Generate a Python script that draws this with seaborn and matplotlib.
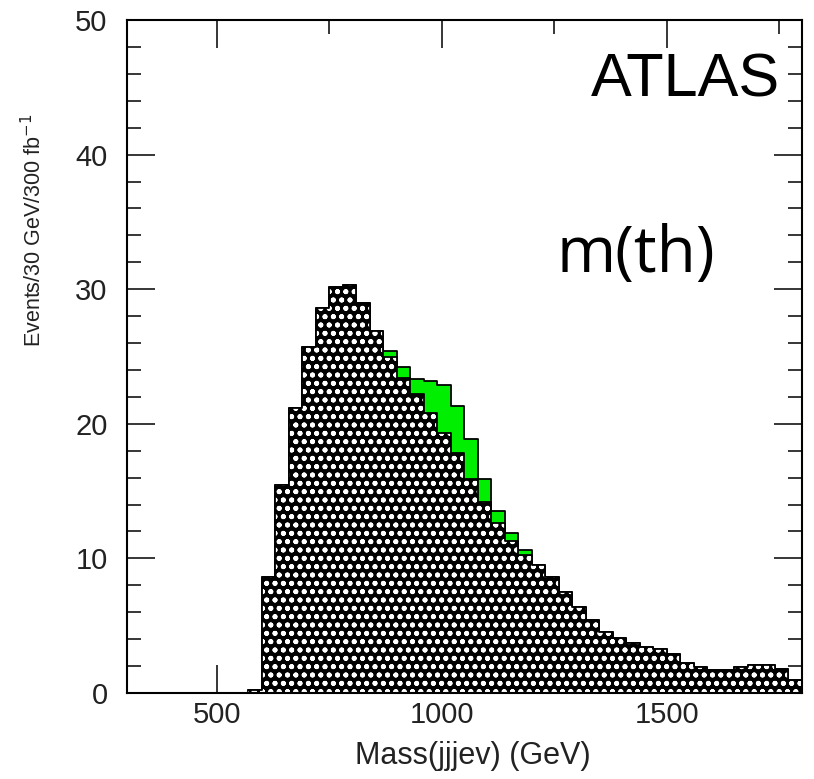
import numpy as np
import pandas as pd
import seaborn as sns
import matplotlib.pyplot as plt
from matplotlib.ticker import MultipleLocator

# 30 GeV bins, low edges
bin_low = np.arange(570, 1800, 30)
background = [0.25, 8.6, 15.45, 21.2, 25.7, 28.6, 30.2, 30.3, 29.0, 26.9,
              25.0, 23.4, 22.2, 20.8, 19.3, 17.8, 15.9, 14.2, 12.6, 11.3, 10.25,
              9.5, 8.6, 7.5, 6.4, 5.4, 4.5, 4.1, 3.75, 3.45, 3.25,
              2.9, 2.25, 1.95, 1.7, 1.7, 1.95, 2.1, 2.1, 1.75, 0.95]
signal = [0, 0, 0, 0, 0, 0, 0, 0, 0, 0,
          0.4, 0.8, 1.1, 2.35, 3.55, 3.55, 3.0, 1.7, 0.9, 0.6, 0.35,
          0, 0, 0, 0, 0, 0, 0, 0, 0, 0,
          0, 0, 0, 0, 0, 0, 0, 0, 0, 0]
x_ticks = [500, 1000, 1500]
y_ticks = [0, 10, 20, 30, 40, 50]

df = pd.DataFrame({'mass': bin_low + 15, 'bkg': background, 'sig': signal})
df['total'] = df['bkg'] + df['sig']
edges = list(bin_low) + [bin_low[-1] + 30]

sns.set_style('ticks')
plt.rcParams['font.family'] = ['Liberation Sans', 'DejaVu Sans']
plt.rcParams['hatch.linewidth'] = 1.2

fig = plt.figure(figsize=(8.14, 7.79), dpi=100)
ax = fig.add_axes([0.156, 0.1104, 0.829, 0.8639])

# signal on top of background: draw the total in green first
sns.histplot(data=df, x='mass', weights='total', bins=edges, element='step',
             fill=True, color='#00ee00', alpha=1, edgecolor='black',
             linewidth=1.3, ax=ax)
# hatched background
sns.histplot(data=df, x='mass', weights='bkg', bins=edges, element='step',
             fill=True, color='black', alpha=1, edgecolor='white',
             linewidth=0, hatch='oo..', ax=ax)
sns.histplot(data=df, x='mass', weights='bkg', bins=edges, element='step',
             fill=False, color='black', linewidth=1.3, ax=ax)

ax.set_xlim(300, 1800)
ax.set_ylim(0, 50)
ax.set_xticks(x_ticks)
ax.set_yticks(y_ticks)
ax.xaxis.set_minor_locator(MultipleLocator(250))
ax.yaxis.set_minor_locator(MultipleLocator(2))
ax.tick_params(which='both', direction='in', top=True, right=True, width=1.1,
               color='black', labelsize=21, labelcolor='#222222')
ax.tick_params(which='major', length=20)
ax.tick_params(which='minor', length=10)
ax.tick_params(axis='x', pad=6)
ax.tick_params(axis='y', pad=14)
for s in ax.spines.values():
    s.set_linewidth(1.5)
    s.set_color('black')

ax.set_xlabel('Mass(jjjev) (GeV)', fontsize=22, color='#222222')
ax.set_ylabel('Events/30 GeV/300 fb$^{-1}$', fontsize=15.5, color='#222222')
ax.xaxis.set_label_coords(0.513, -0.072)
ax.yaxis.set_label_coords(-0.12, 0.688)

ax.text(0.967, 0.886, 'ATLAS', transform=ax.transAxes, ha='right',
        va='baseline', fontsize=44, color='black')
ax.text(0.636, 0.6256, 'm(th)', transform=ax.transAxes, ha='left',
        va='baseline', fontsize=46, family=['Open Sans', 'DejaVu Sans'],
        color='black')

fig.savefig('out.png', dpi=100)
